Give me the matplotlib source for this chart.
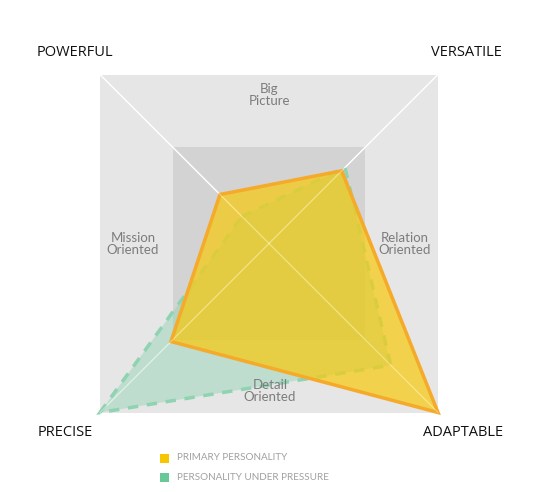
import matplotlib.pyplot as plt
from matplotlib.patches import Polygon, Rectangle

# corner axes, clockwise from top-left
corners = ['POWERFUL', 'VERSATILE', 'ADAPTABLE', 'PRECISE']
sides = ['Big\nPicture', 'Relation\nOriented', 'Detail\nOriented', 'Mission\nOriented']
primary = [29, 43, 100, 58]
pressure = [16, 45, 72, 100]
legend_labels = ['PRIMARY PERSONALITY', 'PERSONALITY UNDER PRESSURE']

W, H = 548, 492
cx, cy, R = 269, 243.5, 169  # center & half-size in pixels

fig = plt.figure(figsize=(W / 100, H / 100), dpi=100)
ax = fig.add_axes([0, 0, 1, 1])
ax.set_xlim(-cx / R, (W - cx) / R)
ax.set_ylim(-(H - cy) / R, cy / R)
ax.axis('off')

plt.rcParams['font.family'] = ['Lato', 'DejaVu Sans']

dirs = [(-1, 1), (1, 1), (1, -1), (-1, -1)]

# background squares
ax.add_patch(Rectangle((-1, -1), 2, 2, facecolor='#e6e6e6', edgecolor='none', zorder=0))
ax.add_patch(Rectangle((-0.57, -0.57), 1.14, 1.14, facecolor='#d3d3d3', edgecolor='none', zorder=1))
for dx, dy in dirs:
    ax.plot([0, dx], [0, dy], color='white', lw=1, zorder=2)


def pts(vals):
    return [(v / 100 * dx, v / 100 * dy) for v, (dx, dy) in zip(vals, dirs)]


ax.add_patch(Polygon(pts(pressure), closed=True, facecolor='#8fd3b1', alpha=0.45,
                     edgecolor='none', zorder=3))
ax.add_patch(Polygon(pts(pressure), closed=True, facecolor='none', edgecolor='#8fd3b1',
                     lw=2.5, linestyle=(0, (3, 2.5)), zorder=4))
ax.add_patch(Polygon(pts(primary), closed=True, facecolor='#f7ca10', alpha=0.72,
                     edgecolor='none', zorder=5))
ax.add_patch(Polygon(pts(primary), closed=True, facecolor='none', edgecolor='#f5aa2a',
                     lw=2.5, zorder=6, joinstyle='miter'))
# white diagonals faintly on top
for dx, dy in dirs:
    ax.plot([0, dx], [0, dy], color='white', lw=0.8, alpha=0.35, zorder=7)


def px(x, y):
    return (x - cx) / R, (cy - y) / R


corner_pos = [(75, 53), (466, 53), (463, 432), (65, 432)]
for lab, (x, y) in zip(corners, corner_pos):
    ax.text(*px(x, y), lab, ha='center', va='center', fontsize=10.5, color='#111111',
            family=['Open Sans', 'DejaVu Sans'])

side_pos = [(269, 95), (405, 244), (270, 391), (133, 244)]
for lab, (x, y) in zip(sides, side_pos):
    ax.text(*px(x, y), lab, ha='center', va='center', fontsize=9.5, color='#7c7c7c',
            linespacing=0.95, zorder=8)

for lab, col, y in zip(legend_labels, ['#f8c600', '#68c996'], [458, 477]):
    ax.add_patch(Rectangle(px(160, y + 4.5), 9 / R, 9 / R, facecolor=col, edgecolor='none'))
    ax.text(*px(177, y), lab, ha='left', va='center', fontsize=7.1, color='#a0a0a0')

fig.savefig('out.png', dpi=100)
